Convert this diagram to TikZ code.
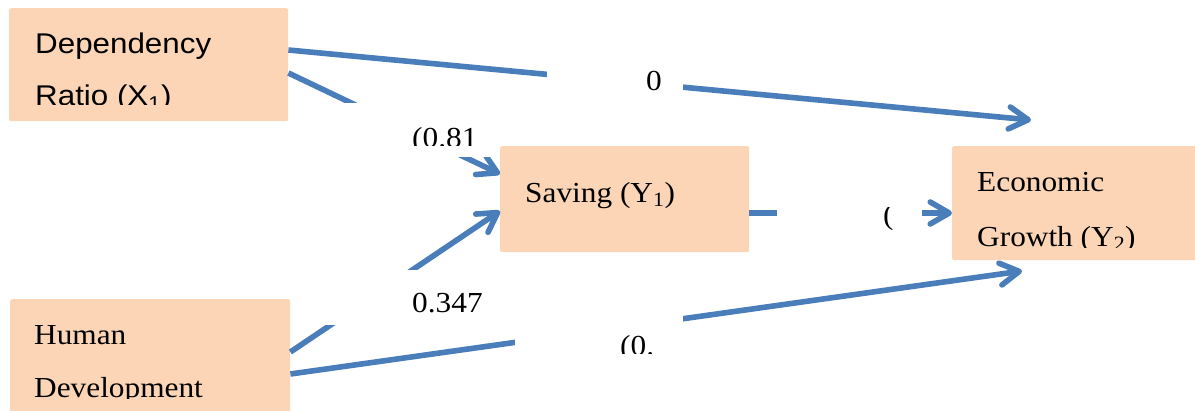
\documentclass[tikz,border=0pt]{standalone}
\usepackage{fontspec}
\setmainfont[FakeStretch=1.08]{Liberation Serif}
\newfontfamily\arialfont[FakeStretch=1.1]{Liberation Sans}
\usepackage{xcolor}
\usetikzlibrary{arrows.meta}
\definecolor{peach}{RGB}{251,213,181}
\definecolor{linkblue}{RGB}{74,126,187}

\begin{document}
\begin{tikzpicture}[x=1pt,y=-1pt,
  box/.style={fill=peach,rounded corners=2pt,anchor=north west,inner sep=0pt},
  cover/.style={fill=white,anchor=north west,inner sep=0pt},
  lbl/.style={anchor=base west,inner sep=0pt,font=\fontsize{29}{29}\selectfont},
  sflbl/.style={anchor=base west,inner sep=0pt,font=\arialfont\fontsize{28.5}{28.5}\selectfont},
  link/.style={draw=linkblue,line width=5.6pt,-{Straight Barb[round,length=19pt,width=22pt]}}]
  \clip (0,0) rectangle (1195,410);
  % variable boxes
  \node[box,minimum width=279pt,minimum height=113pt] (dep) at (9,8) {};
  \node[box,minimum width=249pt,minimum height=106pt] (sav) at (500,146) {};
  \node[box,minimum width=260pt,minimum height=114pt] (grow) at (952,146) {};
  \node[box,minimum width=280pt,minimum height=125pt] (hum) at (10,299) {};
  \begin{scope}
    \clip (9,8) rectangle (288,104);
    \node[sflbl] (depa) at (35,53) {Dependency};
    \node[sflbl] (depb) at (35,105) {Ratio (X\textsubscript{1})};
  \end{scope}
  \node[lbl] (savt) at (525,202) {Saving (Y\textsubscript{1})};
  \begin{scope}
    \clip (952,146) rectangle (1195,247);
    \node[lbl] (growa) at (977,191) {Economic};
    \node[lbl] (growb) at (977,246) {Growth (Y\textsubscript{2})};
  \end{scope}
  \begin{scope}
    \clip (10,299) rectangle (290,398);
    \node[lbl] (huma) at (34,344) {Human};
    \node[lbl] (humb) at (34,397) {Development};
  \end{scope}
  % free arrow ends
  \coordinate (g1) at (1031,120);
  \coordinate (g5) at (1022,271);
  % paths
  \draw[link] (dep.east |- 0,50) -- (g1);
  \draw[link] (dep.east |- 0,73) -- (sav.west |- 0,174);
  \draw[link] (hum.east |- 0,352) -- (sav.west |- 0,211);
  \draw[link] (sav.east |- 0,213) -- (grow.west |- 0,213);
  \draw[link] (hum.east |- 0,374) -- (g5);
  % coefficient boxes
  \node[cover,minimum width=136pt,minimum height=42pt] (c1) at (547,58) {};
  \node[lbl] (c1t) at (646,90) {0};
  \node[cover,minimum width=150pt,minimum height=54pt] (c2) at (340,103) {};
  \begin{scope}
    \clip (340,103) rectangle (490,145);
    \node[lbl] (c2t) at (412,147) {(0.81};
  \end{scope}
  \node[cover,minimum width=170pt,minimum height=55pt] (c3) at (325,270) {};
  \node[lbl] (c3t) at (412,312) {0.347};
  \node[cover,minimum width=145pt,minimum height=40pt] (c4) at (777,195) {};
  \begin{scope}
    \clip (777,207) rectangle (922,229);
    \node[lbl] (c4t) at (883,224) {(};
  \end{scope}
  \node[cover,minimum width=168pt,minimum height=45pt] (c5) at (515,310) {};
  \begin{scope}
    \clip (515,310) rectangle (683,353);
    \node[lbl] (c5t) at (620,355) {(0.};
  \end{scope}
\end{tikzpicture}
\end{document}
